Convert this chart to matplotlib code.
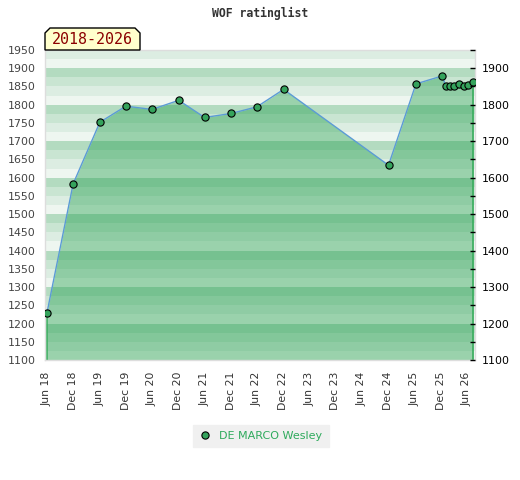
import matplotlib
matplotlib.use("Agg")
import matplotlib.pyplot as plt
import matplotlib.dates as mdates
from matplotlib.patches import Polygon
from datetime import datetime, timedelta

# rating list dates and values
dates = ["2018-06-01", "2018-12-01", "2019-06-05", "2019-12-03", "2020-06-01",
         "2020-12-05", "2021-06-03", "2021-12-05", "2022-06-01", "2022-12-05",
         "2024-12-04", "2025-06-13", "2025-12-13",
         "2026-01-07", "2026-02-07", "2026-03-07", "2026-04-10",
         "2026-05-10", "2026-06-13", "2026-07-16"]
ratings = [1228, 1583, 1752, 1796, 1787, 1812, 1765, 1776, 1794, 1842,
           1634, 1857, 1879,
           1850, 1850, 1850, 1856, 1851, 1854, 1862]
player = "DE MARCO Wesley"
period = "2018-2026"

x = [datetime.strptime(d, "%Y-%m-%d") for d in dates]

W, H = 520, 480
fig = plt.figure(figsize=(W / 100, H / 100), dpi=100)
ax = fig.add_axes([45 / W, 1 - 360 / H, 430 / W, 310 / H])

ymin, ymax = 1100, 1950

# striped background, four shades per 100 points
shades = ["#eef6f0", "#dcede2", "#c9e5d2", "#b3dbc0"]
for lo in range(ymin, ymax, 25):
    ax.axhspan(lo, lo + 25, color=shades[(lo % 100) // 25], lw=0, zorder=0)

ax.fill_between(x, ratings, ymin, color=(28 / 255, 156 / 255, 72 / 255),
                alpha=0.4, lw=0, zorder=1)
ax.vlines([x[0], x[-1]], ymin, [ratings[0], ratings[-1]], color="#3aad5e",
          lw=1.2, zorder=2)
ax.plot(x, ratings, color="#5b9bd5", lw=1, zorder=3)
ax.plot(x, ratings, ls="none", marker="o", ms=5.2, mfc="#35a35c", mec="black",
        mew=0.8, zorder=4, label=player)

ax.set_xlim(x[0] - timedelta(days=13), x[-1] + timedelta(days=13))
ax.set_ylim(ymin, ymax)
ax.set_yticks(range(1100, 1951, 50))
ax.tick_params(axis="y", length=0, pad=6.5, labelsize=7.9, labelcolor="#444444")

ticks = [datetime(y, m, 1) for y in range(2018, 2027) for m in (6, 12)]
ticks = [t for t in ticks if t <= datetime(2026, 6, 1)]
ax.set_xticks(ticks)
ax.xaxis.set_major_formatter(mdates.DateFormatter("%b %y"))
ax.tick_params(axis="x", length=0, pad=8.5, labelsize=7.8, labelcolor="#333333",
               labelrotation=90)

for s in ax.spines.values():
    s.set_color("#dddddd")
    s.set_linewidth(1)

ax2 = ax.twinx()
ax2.set_ylim(ymin, ymax)
ax2.set_yticks(range(1100, 1901, 100))
ax2.set_yticks(range(1150, 1951, 100), minor=True)
ax2.tick_params(axis="y", which="both", direction="in", length=3.5, width=1,
                color="black", pad=5, labelsize=7.9, labelcolor="black")
for s in ax2.spines.values():
    s.set_visible(False)

fig.text(260 / W, 1 - 13 / H, "WOF ratinglist", ha="center", va="center",
         family="DejaVu Sans Mono", weight="bold", fontsize=8.3, color="#333333")

# period tag with chamfered top corners
px = [45, 45, 50, 135, 140, 140]
py = [50, 33, 28, 28, 33, 50]
tag = Polygon([(a / W, 1 - b / H) for a, b in zip(px, py)], closed=True,
              transform=fig.transFigure, facecolor="#ffffcc", edgecolor="black",
              lw=1, zorder=5)
fig.patches.append(tag)
fig.text(92 / W, 1 - 40 / H, period, ha="center", va="center",
         family="DejaVu Sans Mono", fontsize=10.8, color="#8b0000", zorder=6)

leg = fig.legend(loc="center", bbox_to_anchor=(261 / W, 1 - 436 / H),
                 frameon=True, fancybox=False, facecolor="#f0f0f0",
                 edgecolor="#f0f0f0", fontsize=8, labelcolor="#2eaa5c",
                 handlelength=1.0, handletextpad=0.8, borderpad=0.55)
leg.get_frame().set_alpha(1)

fig.savefig("out.png", dpi=100)
